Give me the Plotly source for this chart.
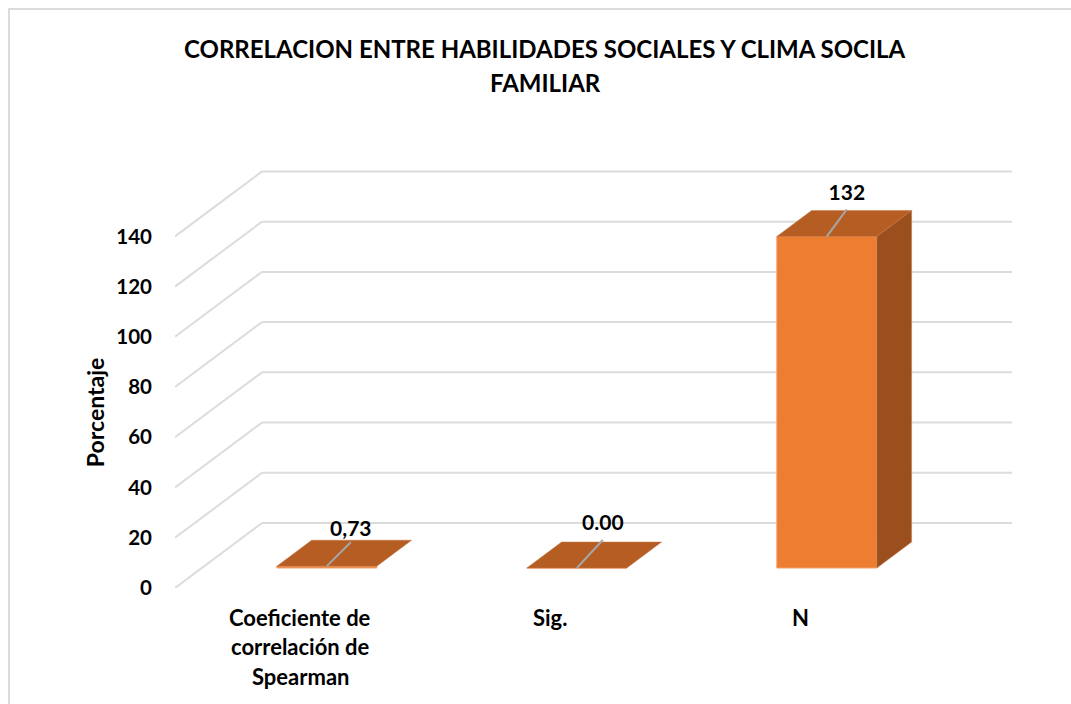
import plotly.graph_objects as go

# Data
categories = [["Coeficiente de", "correlación de", "Spearman"], ["Sig."], ["N"]]
values = [0.73, 0.00, 132]
value_labels = ["0,73", "0.00", "132"]
tick_values = [0, 20, 40, 60, 80, 100, 120, 140]
title_lines = ["CORRELACION ENTRE HABILIDADES SOCIALES Y CLIMA SOCILA", "FAMILIAR"]
y_title = "Porcentaje"

# Oblique projection of the 3D look, in axis units
PX_X, PX_Y = 250, 2.514
DEPTH_X = 87 / PX_X
DEPTH_Y = 65 / PX_Y
BAR_HALF = 0.2
D0, D1 = 0.308, 0.708
FRONT, TOP, SIDE = "#ED7D31", "#B55D22", "#9A4F1C"
GRID = "#DCDCDC"
FONT = "Lato"
LEADER_DX = [24, 26, 20]
LEADER_DY = [24, 28, 27]
LABEL_GAP = [0.5, 4.5, 4.5]


def proj(x, v, d):
    return x + d * DEPTH_X, v + d * DEPTH_Y


def poly(points):
    xs, ys = zip(*[proj(*p) for p in points])
    return list(xs) + [xs[0]], list(ys) + [ys[0]]


fig = go.Figure()
idx = list(range(len(values)))

# Front faces
fig.add_trace(go.Bar(
    x=[proj(i, 0, D0)[0] for i in idx],
    y=values,
    base=proj(0, 0, D0)[1],
    width=BAR_HALF * 2,
    marker=dict(color=FRONT, line=dict(color="#F4A26F", width=1)),
    showlegend=False,
))

# Top and side faces
for i, v in zip(idx, values):
    l, r = i - BAR_HALF, i + BAR_HALF
    xs, ys = poly([(l, v, D0), (r, v, D0), (r, v, D1), (l, v, D1)])
    fig.add_trace(go.Scatter(x=xs, y=ys, mode="lines", fill="toself", fillcolor=TOP,
                             line=dict(color="#C9784A", width=0.5), showlegend=False, cliponaxis=False))
    if v > 1:
        xs, ys = poly([(r, 0, D0), (r, v, D0), (r, v, D1), (r, 0, D1)])
        fig.add_trace(go.Scatter(x=xs, y=ys, mode="lines", fill="toself", fillcolor=SIDE,
                                 line=dict(color="#C9784A", width=0.5), showlegend=False, cliponaxis=False))

# Leader lines and data labels
ends = []
for i, v in zip(idx, values):
    x0, y0 = proj(i, v, D0)
    x1, y1 = x0 + LEADER_DX[i] / PX_X, y0 + LEADER_DY[i] / PX_Y
    ends.append((x1, y1))
    fig.add_trace(go.Scatter(x=[x0, x1], y=[y0, y1], mode="lines",
                             line=dict(color="#A6A6A6", width=2), showlegend=False, cliponaxis=False))
fig.add_trace(go.Scatter(
    x=[e[0] for e in ends], y=[e[1] + g / PX_Y for e, g in zip(ends, LABEL_GAP)], mode="text",
    text=[f"<b>{t}</b>" for t in value_labels], textposition="top center",
    textfont=dict(family=FONT, size=21, color="#000000"), showlegend=False, cliponaxis=False,
))

# Gridlines as polylines on floor/wall, below the bars
shapes = []
x_left, x_right = -0.5, 2.5
for t in tick_values:
    bx, by = proj(x_left, t, 1)
    ex, ey = proj(x_right, t, 1)
    shapes.append(dict(type="line", xref="x", yref="y", x0=x_left, y0=t, x1=bx, y1=by,
                       line=dict(color=GRID, width=2), layer="below"))
    shapes.append(dict(type="line", xref="x", yref="y", x0=bx, y0=by, x1=ex, y1=ey,
                       line=dict(color=GRID, width=2), layer="below"))
# Chart frame
shapes.append(dict(type="rect", xref="paper", yref="paper", x0=(9 - 175) / 837, y0=-0.4,
                   x1=1.09, y1=(588 - 8.5) / 427.38,
                   line=dict(color=GRID, width=2), layer="below"))

annotations = []
# Title
for line, yy in zip(title_lines, [656, 622]):
    annotations.append(dict(xref="paper", yref="paper", x=(545 - 175) / 837, y=0, yshift=yy - 116,
                            text=f"<b>{line}</b>", showarrow=False, xanchor="center", yanchor="middle",
                            font=dict(family=FONT, size=24, color="#000000")))
# Category labels (one per line)
for i, lines in enumerate(categories):
    for j, line in enumerate(lines):
        annotations.append(dict(xref="x", yref="paper", x=i, y=0, yshift=-29 - 29.5 * j,
                                text=f"<b>{line}</b>", showarrow=False, xanchor="center", yanchor="middle",
                                font=dict(family=FONT, size=22, color="#000000")))
# Y title
annotations.append(dict(xref="paper", yref="paper", x=(95 - 175) / 837, y=(588 - 413) / 427.38,
                        text=f"<b>{y_title}</b>", textangle=-90, showarrow=False,
                        xanchor="center", yanchor="middle",
                        font=dict(family=FONT, size=23, color="#000000")))

fig.update_layout(
    width=1071, height=704,
    margin=dict(l=175, r=59, t=160.62, b=116, pad=0, autoexpand=False),
    paper_bgcolor="white", plot_bgcolor="rgba(0,0,0,0)",
    showlegend=False, shapes=shapes, annotations=annotations,
    xaxis=dict(range=[x_left, x_right + DEPTH_X], showgrid=False, zeroline=False, showline=False,
               showticklabels=False, ticks=""),
    yaxis=dict(range=[0, 170], tickvals=tick_values, ticktext=[f"<b>{t}</b>" for t in tick_values],
               showgrid=False, zeroline=False, showline=False, ticks="", ticklabelstandoff=22,
               tickfont=dict(family=FONT, size=20.5, color="#000000")),
)

fig.write_html("out.html", config={"displayModeBar": False},
               post_script="document.body.style.margin='0';document.body.style.overflow='hidden';")
